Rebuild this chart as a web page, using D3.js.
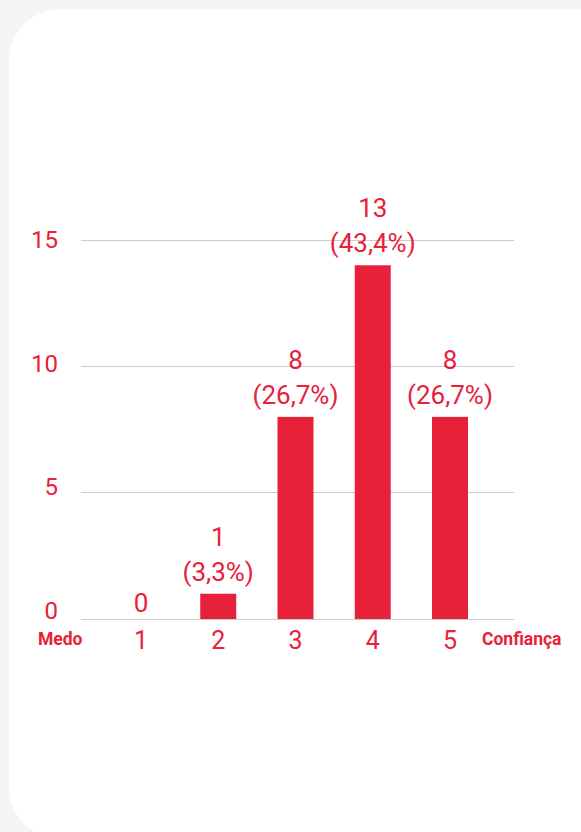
<!DOCTYPE html>
<html><head><meta charset="utf-8">
<script src="https://cdn.jsdelivr.net/npm/d3@7"></script>
<style>html,body{margin:0;padding:0;background:#f5f5f5;}svg{display:block;}</style>
</head><body>
<svg id="c" width="581" height="832"></svg>
<script>
const categories = ["1","2","3","4","5"];
const values = [0, 1, 8, 14, 8];
const countLabels = ["0","1","8","13","8"];
const pctLabels = ["", "(3,3%)", "(26,7%)", "(43,4%)", "(26,7%)"];
const yTicks = [0, 5, 10, 15];
const leftLabel = "Medo", rightLabel = "Confiança";

const red = "#e8213a";
const font = "Roboto, 'Noto Sans', sans-serif";
const svg = d3.select("#c");
svg.append("rect").attr("x", 9).attr("y", 9).attr("width", 620).attr("height", 830)
  .attr("rx", 52).attr("fill", "#fff");

const y = d3.scaleLinear().domain([0, 15]).range([619, 240]);
const yLab = d3.scaleLinear().domain([0, 15]).range([619, 248]);
const x = d3.scalePoint().domain(categories).range([141, 450]);
const bw = 36;
const fs = 26;

const g = svg.append("g");
g.selectAll(".grid").data(yTicks).join("line")
  .attr("x1", 81).attr("x2", 514).attr("y1", d => y(d)).attr("y2", d => y(d))
  .attr("stroke", "#cccccc").attr("stroke-width", 1).attr("shape-rendering", "crispEdges");

g.selectAll(".yl").data(yTicks).join("text")
  .attr("x", 58).attr("y", d => yLab(d)).attr("text-anchor", "end")
  .attr("font-family", font).attr("font-size", 24).attr("fill", red).text(d => d);

g.selectAll(".bar").data(values).join("rect")
  .attr("x", (d, i) => x(categories[i]) - bw / 2).attr("width", bw)
  .attr("y", d => y(d)).attr("height", d => y(0) - y(d)).attr("fill", red);

g.selectAll(".xl").data(categories).join("text")
  .attr("x", d => x(d)).attr("y", 649).attr("text-anchor", "middle")
  .attr("font-family", font).attr("font-size", 25).attr("fill", red).text(d => d);

values.forEach((v, i) => {
  const cx = x(categories[i]);
  if (pctLabels[i]) {
    g.append("text").attr("x", cx).attr("y", y(v) - 13).attr("text-anchor", "middle")
      .attr("font-family", font).attr("font-size", fs).attr("fill", red).text(pctLabels[i]);
    g.append("text").attr("x", cx).attr("y", y(v) - 48).attr("text-anchor", "middle")
      .attr("font-family", font).attr("font-size", fs).attr("fill", red).text(countLabels[i]);
  } else {
    g.append("text").attr("x", cx).attr("y", y(v) - 7).attr("text-anchor", "middle")
      .attr("font-family", font).attr("font-size", fs).attr("fill", red).text(countLabels[i]);
  }
});

g.append("text").attr("x", 38).attr("y", 645).attr("font-family", font).attr("font-weight", "bold")
  .attr("font-size", 17.5).attr("fill", red).text(leftLabel);
g.append("text").attr("x", 482).attr("y", 645).attr("font-family", font).attr("font-weight", "bold")
  .attr("font-size", 17.5).attr("fill", red).text(rightLabel);
</script>
</body></html>
